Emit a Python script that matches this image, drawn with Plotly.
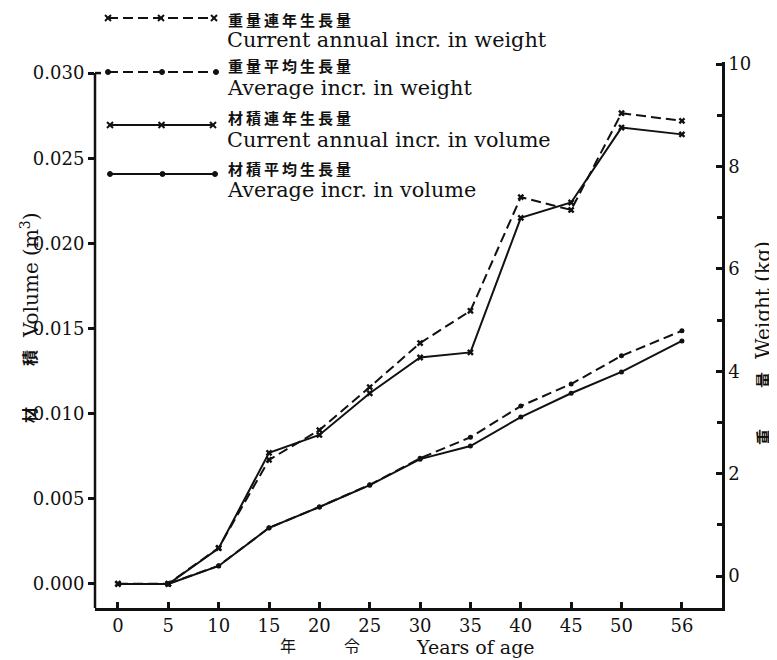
import plotly.graph_objects as go

# ---- data ----
years = [0, 5, 10, 15, 20, 25, 30, 35, 40, 45, 50, 56]
x_ticks = [0, 5, 10, 15, 20, 25, 30, 35, 40, 45, 50, 56]

# left axis: volume (m3)
vol_current = [0.0, 0.0, 0.0021, 0.0077, 0.00875, 0.0112, 0.0133, 0.0136, 0.0215, 0.0224, 0.0268, 0.0264]
vol_avg_years = [5, 10, 15, 20, 25, 30, 35, 40, 45, 50, 56]
vol_avg = [0.0, 0.00106, 0.0033, 0.00452, 0.0058, 0.00733, 0.0081, 0.0098, 0.0112, 0.01245, 0.01427]

# right axis: weight (kg)
wt_current = [-0.15, -0.15, 0.55, 2.27, 2.85, 3.69, 4.55, 5.18, 7.40, 7.15, 9.04, 8.89]
wt_avg_years = [5, 10, 15, 20, 25, 30, 35, 40, 45, 50, 56]
wt_avg = [-0.15, 0.20, 0.94, 1.35, 1.78, 2.30, 2.71, 3.32, 3.75, 4.30, 4.79]

left_ticks = [0.0, 0.005, 0.010, 0.015, 0.020, 0.025, 0.030]
left_ticktext = ["0.000", "0.005", "0.010", "0.015", "0.020", "0.025", "0.030"]
right_ticks = [0, 2, 4, 6, 8, 10]

legend_cn = ["重量連年生長量", "重量平均生長量", "材積連年生長量", "材積平均生長量"]
legend_en = ["Current annual incr. in weight", "Average incr. in weight",
             "Current annual incr. in volume", "Average incr. in volume"]

SERIF = "DejaVu Serif"
CJK = "Noto Sans CJK JP"
BLACK = "#111111"
DASH = "10px,5px"

fig = go.Figure()

fig.add_trace(go.Scatter(x=years, y=wt_current, yaxis="y2", mode="lines+markers",
                         line=dict(color=BLACK, width=2, dash=DASH),
                         marker=dict(symbol="x", size=6, color=BLACK), showlegend=False))
fig.add_trace(go.Scatter(x=wt_avg_years, y=wt_avg, yaxis="y2", mode="lines+markers",
                         line=dict(color=BLACK, width=2, dash=DASH),
                         marker=dict(symbol="circle", size=5, color=BLACK), showlegend=False))
fig.add_trace(go.Scatter(x=years, y=vol_current, mode="lines+markers",
                         line=dict(color=BLACK, width=2),
                         marker=dict(symbol="x", size=6, color=BLACK), showlegend=False))
fig.add_trace(go.Scatter(x=vol_avg_years, y=vol_avg, mode="lines+markers",
                         line=dict(color=BLACK, width=2),
                         marker=dict(symbol="circle", size=5, color=BLACK), showlegend=False))

# the page body adds an 8px offset; figure is sized to fit the 777x660 window
OFF = 8
W, H = 777 - OFF, 660 - OFF
L, T = 95 - OFF, 62 - OFF
R = W - (722 - OFF)
B = H - (608 - OFF)
pw, ph = W - L - R, H - T - B


def px(xp):
    return (xp - OFF - L) / pw


def py(yp):
    return (H - B - (yp - OFF)) / ph


shapes = []
annotations = []

# ---- custom legend ----
leg_rows = [18, 72, 125, 174]
leg_dash = [True, True, False, False]
leg_sym = ["x", "dot", "x", "dot"]
leg_x0 = [108, 108, 110, 110]
leg_x1 = [214, 216, 213, 215]
leg_cn_y = [19, 66, 118, 168]
leg_en_y = [40, 88, 140, 190]
for i in range(4):
    y = leg_rows[i]
    x0, x1 = leg_x0[i], leg_x1[i]
    shapes.append(dict(type="line", xref="paper", yref="paper",
                       x0=px(x0), x1=px(x1), y0=py(y), y1=py(y),
                       line=dict(color=BLACK, width=2, dash=DASH if leg_dash[i] else "solid")))
    for xm in (x0, (x0 + x1) / 2, x1):
        if leg_sym[i] == "x":
            for s in (-1, 1):
                shapes.append(dict(type="line", xref="paper", yref="paper",
                                   x0=px(xm - 3), x1=px(xm + 3), y0=py(y - 3 * s), y1=py(y + 3 * s),
                                   line=dict(color=BLACK, width=2)))
        else:
            shapes.append(dict(type="circle", xref="paper", yref="paper",
                               x0=px(xm - 2.5), x1=px(xm + 2.5), y0=py(y - 2.5), y1=py(y + 2.5),
                               fillcolor=BLACK, line=dict(color=BLACK, width=1)))
    annotations.append(dict(xref="paper", yref="paper", x=px(226), y=py(leg_cn_y[i]),
                            xanchor="left", yanchor="middle", showarrow=False,
                            text="<b><span style='letter-spacing:3px'>" + legend_cn[i] + "</span></b>",
                            font=dict(family=CJK, size=15, color=BLACK)))
    annotations.append(dict(xref="paper", yref="paper", x=px(225), y=py(leg_en_y[i]),
                            xanchor="left", yanchor="middle", showarrow=False,
                            text=legend_en[i],
                            font=dict(family=SERIF, size=20.8, color=BLACK)))

# ---- axis titles ----
def title_piece(xp, yp, text, family, size, angle):
    annotations.append(dict(xref="paper", yref="paper", x=px(xp), y=py(yp),
                            xanchor="center", yanchor="middle", showarrow=False, textangle=angle,
                            text=text, font=dict(family=family, size=size, color=BLACK)))


title_piece(30, 275, "Volume (m<sup>3</sup>)", SERIF, 20, -90)
title_piece(29, 358, "<b>積</b>", CJK, 16, -90)
title_piece(29, 415, "<b>材</b>", CJK, 16, -90)
title_piece(763, 300, "Weight (kg)", SERIF, 20, -90)
title_piece(763, 380, "<b>量</b>", CJK, 16, -90)
title_piece(763, 437, "<b>重</b>", CJK, 16, -90)
title_piece(288, 645, "年", CJK, 16, 0)
title_piece(352, 645, "令", CJK, 16, 0)
title_piece(475, 647, "Years of age", SERIF, 19, 0)

# left axis line starts at the 0.030 tick, with a short cap to the right
shapes.append(dict(type="line", xref="paper", yref="y", x0=0, x1=0, y0=-0.00141, y1=0.030,
                   line=dict(color=BLACK, width=2.5)))
shapes.append(dict(type="line", xref="paper", yref="y", x0=0, x1=px(101), y0=0.030, y1=0.030,
                   line=dict(color=BLACK, width=2.5)))

fig.update_layout(
    width=W, height=H,
    margin=dict(l=L, r=R, t=T, b=B),
    paper_bgcolor="white", plot_bgcolor="white",
    showlegend=False,
    xaxis=dict(range=[-2.28, 59.98], tickvals=x_ticks, ticktext=[str(v) for v in x_ticks],
               ticks="inside", ticklen=6, tickwidth=3, tickcolor=BLACK,
               showline=True, linewidth=2.5, linecolor=BLACK, showgrid=False, zeroline=False,
               tickfont=dict(family=SERIF, size=18, color=BLACK)),
    yaxis=dict(range=[-0.00141, 0.03065], tickvals=left_ticks, ticktext=left_ticktext,
               ticks="outside", ticklen=6, tickwidth=3, tickcolor=BLACK,
               showline=False, showgrid=False, zeroline=False,
               tickfont=dict(family=SERIF, size=18, color=BLACK)),
    yaxis2=dict(range=[-0.625, 10.04], overlaying="y", side="right",
                tickvals=right_ticks, ticktext=[str(v) for v in right_ticks],
                ticks="inside", ticklen=6, tickwidth=3, tickcolor=BLACK,
                minor=dict(ticks="inside", ticklen=5, tickwidth=3, tickcolor=BLACK, dtick=1, tick0=0),
                showline=True, linewidth=2.5, linecolor=BLACK, showgrid=False, zeroline=False,
                tickfont=dict(family=SERIF, size=18, color=BLACK)),
    shapes=shapes,
    annotations=annotations,
)

fig.write_html("out.html")
